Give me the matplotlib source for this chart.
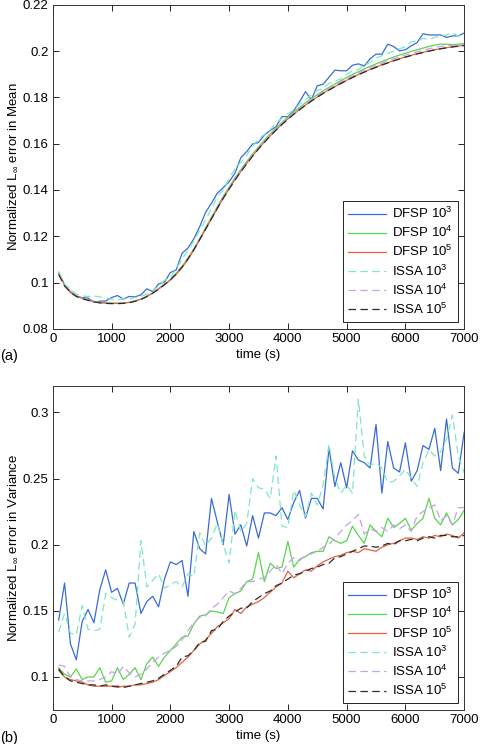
import numpy as np
import matplotlib
matplotlib.use("Agg")
import matplotlib.pyplot as plt

plt.rcParams["font.family"] = ["Liberation Sans", "DejaVu Sans"]
plt.rcParams["mathtext.fontset"] = "custom"
plt.rcParams["mathtext.rm"] = "Liberation Sans"
plt.rcParams["mathtext.it"] = "Liberation Sans:italic"
plt.rcParams["mathtext.bf"] = "Liberation Sans:bold"

time = np.arange(100, 7001, 100)

labels = ["DFSP 10$^3$", "DFSP 10$^4$", "DFSP 10$^5$",
          "ISSA 10$^3$", "ISSA 10$^4$", "ISSA 10$^5$"]
colors = ["#3a6bd6", "#5bd44f", "#e4633d", "#7ee8c6", "#c8a0ec", "#2b2b2b"]
styles = ["-", "-", "-", (0, (6, 3.5)), (0, (6, 3.5)), (0, (6, 3.5))]

# ---- panel (a): error in mean ----
mean_dfsp3 = [0.1040, 0.0990, 0.0957, 0.0940, 0.0935, 0.0933, 0.0914, 0.0920, 0.0920, 0.0935,
              0.0944, 0.0928, 0.0940, 0.0938, 0.0947, 0.0973, 0.0961, 0.0994, 0.1002, 0.1043,
              0.1055, 0.1127, 0.1149, 0.1189, 0.1242, 0.1303, 0.1343, 0.1386, 0.1410, 0.1435,
              0.1473, 0.1540, 0.1566, 0.1599, 0.1605, 0.1638, 0.1657, 0.1674, 0.1717, 0.1717,
              0.1742, 0.1782, 0.1825, 0.1790, 0.1850, 0.1857, 0.1887, 0.1918, 0.1915, 0.1915,
              0.1939, 0.1945, 0.1936, 0.1967, 0.1987, 0.1987, 0.2030, 0.2020, 0.2001, 0.2006,
              0.2023, 0.2037, 0.2075, 0.2070, 0.2070, 0.2070, 0.2059, 0.2066, 0.2066, 0.2078]
mean_dfsp4 = [0.1045, 0.0992, 0.0962, 0.0943, 0.0933, 0.0925, 0.0919, 0.0915, 0.0912, 0.0911,
              0.0911, 0.0912, 0.0915, 0.0921, 0.0929, 0.0941, 0.0956, 0.0974, 0.0993, 0.1013,
              0.1040, 0.1070, 0.1106, 0.1146, 0.1190, 0.1236, 0.1282, 0.1328, 0.1372, 0.1412,
              0.1452, 0.1488, 0.1523, 0.1556, 0.1586, 0.1615, 0.1642, 0.1668, 0.1692, 0.1715,
              0.1737, 0.1757, 0.1777, 0.1795, 0.1812, 0.1828, 0.1844, 0.1858, 0.1872, 0.1886,
              0.1899, 0.1911, 0.1923, 0.1934, 0.1945, 0.1955, 0.1965, 0.1974, 0.1983, 0.1991,
              0.1999, 0.2006, 0.2013, 0.2020, 0.2026, 0.2030, 0.2030, 0.2028, 0.2030, 0.2032]
mean_dfsp5 = [0.1040, 0.0990, 0.0960, 0.0942, 0.0932, 0.0925, 0.0918, 0.0914, 0.0911, 0.0910,
              0.0910, 0.0911, 0.0914, 0.0920, 0.0928, 0.0940, 0.0955, 0.0972, 0.0990, 0.1010,
              0.1035, 0.1065, 0.1100, 0.1140, 0.1185, 0.1230, 0.1275, 0.1320, 0.1365, 0.1405,
              0.1445, 0.1480, 0.1515, 0.1548, 0.1578, 0.1607, 0.1634, 0.1660, 0.1684, 0.1707,
              0.1728, 0.1748, 0.1767, 0.1785, 0.1802, 0.1818, 0.1833, 0.1847, 0.1861, 0.1874,
              0.1887, 0.1899, 0.1910, 0.1921, 0.1931, 0.1941, 0.1950, 0.1959, 0.1967, 0.1975,
              0.1982, 0.1989, 0.1995, 0.2001, 0.2006, 0.2011, 0.2015, 0.2019, 0.2022, 0.2025]
mean_issa3 = [0.1045, 0.0995, 0.0970, 0.0950, 0.0942, 0.0940, 0.0942, 0.0938, 0.0932, 0.0928,
              0.0925, 0.0930, 0.0928, 0.0935, 0.0940, 0.0950, 0.0965, 0.0985, 0.1010, 0.1020,
              0.1060, 0.1100, 0.1140, 0.1180, 0.1225, 0.1270, 0.1320, 0.1370, 0.1400, 0.1450,
              0.1490, 0.1520, 0.1550, 0.1590, 0.1620, 0.1640, 0.1660, 0.1690, 0.1710, 0.1730,
              0.1745, 0.1770, 0.1790, 0.1810, 0.1830, 0.1840, 0.1860, 0.1870, 0.1880, 0.1900,
              0.1915, 0.1920, 0.1940, 0.1950, 0.1970, 0.1980, 0.1990, 0.2000, 0.2010, 0.2020,
              0.2040, 0.2045, 0.2055, 0.2050, 0.2060, 0.2065, 0.2070, 0.2080, 0.2065, 0.2070]
mean_issa4 = [0.1040, 0.0988, 0.0960, 0.0941, 0.0932, 0.0924, 0.0918, 0.0913, 0.0911, 0.0910,
              0.0910, 0.0911, 0.0914, 0.0920, 0.0928, 0.0940, 0.0955, 0.0973, 0.0992, 0.1012,
              0.1038, 0.1068, 0.1104, 0.1144, 0.1188, 0.1233, 0.1279, 0.1325, 0.1369, 0.1409,
              0.1449, 0.1485, 0.1519, 0.1552, 0.1582, 0.1611, 0.1638, 0.1664, 0.1688, 0.1711,
              0.1733, 0.1753, 0.1772, 0.1790, 0.1807, 0.1823, 0.1839, 0.1853, 0.1867, 0.1880,
              0.1893, 0.1905, 0.1917, 0.1928, 0.1938, 0.1948, 0.1958, 0.1967, 0.1975, 0.1983,
              0.1990, 0.1997, 0.2004, 0.2010, 0.2016, 0.2020, 0.2023, 0.2025, 0.2027, 0.2029]
mean_issa5 = [0.1035, 0.0985, 0.0958, 0.0940, 0.0930, 0.0923, 0.0917, 0.0912, 0.0910, 0.0909,
              0.0909, 0.0910, 0.0913, 0.0919, 0.0927, 0.0939, 0.0954, 0.0971, 0.0991, 0.1012,
              0.1037, 0.1067, 0.1102, 0.1142, 0.1186, 0.1231, 0.1276, 0.1321, 0.1364, 0.1404,
              0.1443, 0.1479, 0.1513, 0.1546, 0.1577, 0.1606, 0.1633, 0.1659, 0.1683, 0.1706,
              0.1727, 0.1747, 0.1766, 0.1784, 0.1801, 0.1817, 0.1832, 0.1846, 0.1860, 0.1873,
              0.1886, 0.1898, 0.1909, 0.1920, 0.1930, 0.1940, 0.1949, 0.1958, 0.1966, 0.1974,
              0.1981, 0.1988, 0.1994, 0.2000, 0.2005, 0.2010, 0.2014, 0.2018, 0.2021, 0.2024]

# ---- panel (b): error in variance ----
var_dfsp3 = [0.143, 0.171, 0.125, 0.113, 0.142, 0.151, 0.141, 0.166, 0.181, 0.164,
             0.167, 0.155, 0.171, 0.171, 0.148, 0.157, 0.161, 0.153, 0.174, 0.187,
             0.185, 0.188, 0.161, 0.210, 0.197, 0.193, 0.235, 0.217, 0.200, 0.238,
             0.208, 0.215, 0.199, 0.222, 0.205, 0.224, 0.224, 0.222, 0.228, 0.219,
             0.232, 0.241, 0.220, 0.235, 0.235, 0.227, 0.273, 0.244, 0.262, 0.243,
             0.271, 0.264, 0.262, 0.258, 0.291, 0.239, 0.278, 0.258, 0.255, 0.277,
             0.248, 0.256, 0.275, 0.272, 0.288, 0.256, 0.295, 0.258, 0.254, 0.285]
var_dfsp4 = [0.107, 0.102, 0.100, 0.106, 0.098, 0.100, 0.100, 0.107, 0.096, 0.097,
             0.107, 0.098, 0.102, 0.107, 0.098, 0.110, 0.115, 0.108, 0.115, 0.120,
             0.125, 0.130, 0.131, 0.140, 0.146, 0.147, 0.150, 0.149, 0.148, 0.160,
             0.163, 0.165, 0.172, 0.174, 0.194, 0.172, 0.186, 0.182, 0.183, 0.2025,
             0.183, 0.189, 0.191, 0.194, 0.195, 0.195, 0.206, 0.203, 0.201, 0.203,
             0.214, 0.207, 0.201, 0.215, 0.210, 0.206, 0.220, 0.213, 0.216, 0.220,
             0.211, 0.216, 0.220, 0.235, 0.220, 0.215, 0.224, 0.215, 0.219, 0.226]
var_dfsp5 = [0.105, 0.100, 0.098, 0.097, 0.096, 0.094, 0.093, 0.093, 0.093, 0.093,
             0.092, 0.093, 0.093, 0.094, 0.094, 0.095, 0.096, 0.098, 0.101, 0.104,
             0.107, 0.111, 0.115, 0.120, 0.125, 0.128, 0.133, 0.138, 0.141, 0.144,
             0.151, 0.148, 0.153, 0.155, 0.157, 0.160, 0.164, 0.168, 0.171, 0.180,
             0.175, 0.178, 0.181, 0.180, 0.184, 0.187, 0.189, 0.191, 0.192, 0.194,
             0.195, 0.194, 0.197, 0.196, 0.195, 0.198, 0.200, 0.201, 0.203, 0.205,
             0.205, 0.204, 0.206, 0.205, 0.207, 0.206, 0.208, 0.207, 0.205, 0.209]
var_issa3 = [0.134, 0.148, 0.133, 0.132, 0.154, 0.136, 0.135, 0.136, 0.163, 0.160,
             0.158, 0.157, 0.130, 0.140, 0.203, 0.168, 0.173, 0.178, 0.167, 0.170,
             0.172, 0.168, 0.178, 0.176, 0.209, 0.199, 0.205, 0.216, 0.200, 0.186,
             0.226, 0.210, 0.216, 0.250, 0.243, 0.242, 0.235, 0.267, 0.214, 0.213,
             0.241, 0.230, 0.221, 0.239, 0.230, 0.245, 0.276, 0.250, 0.239, 0.245,
             0.239, 0.310, 0.267, 0.260, 0.262, 0.258, 0.247, 0.248, 0.252, 0.257,
             0.250, 0.244, 0.262, 0.272, 0.267, 0.270, 0.280, 0.298, 0.267, 0.254]
var_issa4 = [0.109, 0.108, 0.100, 0.098, 0.097, 0.097, 0.097, 0.098, 0.100, 0.104,
             0.102, 0.108, 0.103, 0.100, 0.102, 0.106, 0.111, 0.115, 0.118, 0.120,
             0.123, 0.128, 0.135, 0.141, 0.145, 0.146, 0.152, 0.155, 0.160, 0.165,
             0.163, 0.167, 0.172, 0.172, 0.174, 0.175, 0.180, 0.185, 0.178, 0.186,
             0.190, 0.188, 0.192, 0.193, 0.195, 0.198, 0.200, 0.205, 0.210, 0.215,
             0.218, 0.223, 0.208, 0.212, 0.210, 0.213, 0.210, 0.215, 0.212, 0.215,
             0.210, 0.222, 0.225, 0.228, 0.230, 0.218, 0.222, 0.215, 0.228, 0.228]
var_issa5 = [0.106, 0.100, 0.097, 0.096, 0.095, 0.094, 0.094, 0.093, 0.094, 0.093,
             0.093, 0.092, 0.093, 0.094, 0.095, 0.096, 0.097, 0.099, 0.102, 0.105,
             0.108, 0.115, 0.116, 0.120, 0.126, 0.127, 0.135, 0.136, 0.142, 0.146,
             0.149, 0.152, 0.152, 0.157, 0.160, 0.163, 0.165, 0.169, 0.171, 0.174,
             0.177, 0.178, 0.180, 0.182, 0.183, 0.185, 0.186, 0.190, 0.191, 0.193,
             0.195, 0.197, 0.199, 0.199, 0.198, 0.199, 0.201, 0.200, 0.203, 0.203,
             0.204, 0.203, 0.205, 0.206, 0.205, 0.207, 0.207, 0.206, 0.206, 0.207]

mean_series = [mean_dfsp3, mean_dfsp4, mean_dfsp5, mean_issa3, mean_issa4, mean_issa5]
var_series = [var_dfsp3, var_dfsp4, var_dfsp5, var_issa3, var_issa4, var_issa5]


def draw_panel(ax, series, ylim, yticks, ylabel, tag):
    for vals, lab, col, ls in zip(series, labels, colors, styles):
        ax.plot(time, vals, color=col, linestyle=ls, linewidth=0.9, label=lab)
    ax.set_xlim(0, 7000)
    ax.set_ylim(*ylim)
    ax.set_xticks(np.arange(0, 7001, 1000))
    ax.set_yticks(yticks)
    ax.set_yticklabels([f"{v:g}" for v in yticks])
    ax.tick_params(direction="in", top=True, right=True, length=4,
                   width=0.6, labelsize=9.5, pad=3)
    for sp in ax.spines.values():
        sp.set_linewidth(0.7)
        sp.set_color("#333333")
    ax.set_xlabel("time (s)", fontsize=9.5, labelpad=3)
    ax.set_ylabel(ylabel, fontsize=9.5, labelpad=2)
    leg = ax.legend(loc="lower right", fontsize=9.5, handlelength=2.9,
                    handletextpad=0.4, labelspacing=0.3, borderpad=0.4,
                    borderaxespad=0.5, fancybox=False, framealpha=1)
    leg.get_frame().set_edgecolor("#222222")
    leg.get_frame().set_linewidth(0.7)
    ax.text(-0.128, -0.085, tag, transform=ax.transAxes, fontsize=10.5,
            ha="left", va="center")


fig = plt.figure(figsize=(4.8, 7.44), dpi=100)
ax1 = fig.add_axes([0.110, 0.558, 0.857, 0.4355])
ax2 = fig.add_axes([0.110, 0.0457, 0.857, 0.4355])

draw_panel(ax1, mean_series, (0.08, 0.22), np.arange(0.08, 0.2201, 0.02),
           r"Normalized L$_\infty$ error in Mean", "(a)")
draw_panel(ax2, var_series, (0.075, 0.32), [0.1, 0.15, 0.2, 0.25, 0.3],
           r"Normalized L$_\infty$ error in Variance", "(b)")

fig.savefig("out.png", dpi=100)
